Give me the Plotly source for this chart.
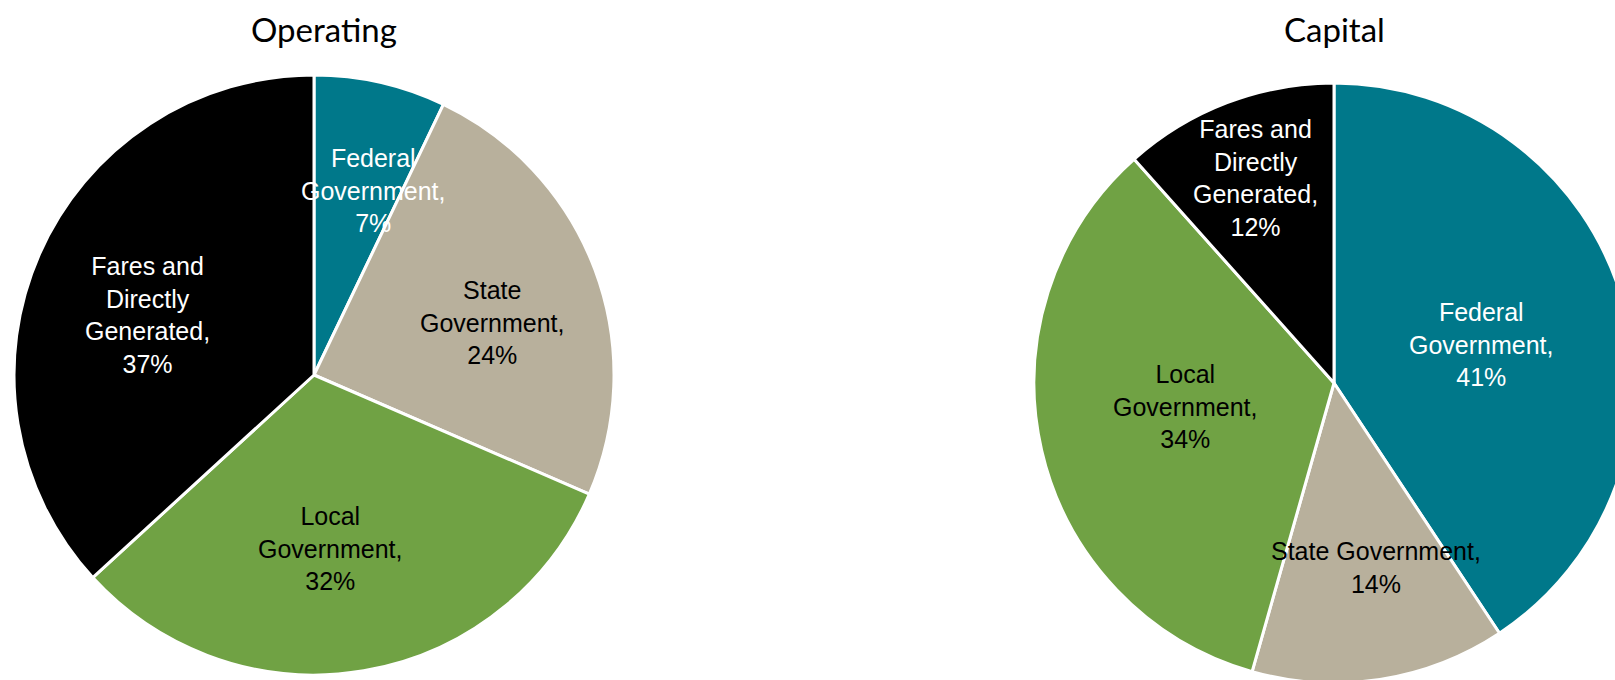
import math
import plotly.graph_objects as go

# Data
categories = ["Federal Government", "State Government", "Local Government", "Fares and Directly Generated"]
colors = ["#00788A", "#B8B09C", "#70A244", "#000000"]
text_colors = ["white", "black", "black", "white"]

operating_values = [7.1, 24.4, 31.7, 36.8]
operating_text = ["Federal<br>Government,", "State<br>Government,", "Local<br>Government,", "Fares and<br>Directly<br>Generated,"]

capital_values = [40.7, 13.7, 34.0, 11.6]
capital_text = ["Federal<br>Government,", "State Government,", "Local<br>Government,", "Fares and<br>Directly<br>Generated,"]

# label placement style (radial fraction and angle nudge in degrees)
operating_label_r = [0.645, 0.62, 0.58, 0.59]
operating_label_da = [5, 4, 4, -4]
capital_label_r = [0.51, 0.63, 0.50, 0.73]
capital_label_da = [2, -4, 4, 0]

W, H = 1640, 690
R = 300


def px_domain(cx, cy, r):
    return dict(x=[(cx - r) / W, (cx + r) / W], y=[1 - (cy + r) / H, 1 - (cy - r) / H])


fig = go.Figure()
pies = [
    (operating_values, operating_text, 314, 375, "Operating", 324, operating_label_r, operating_label_da),
    (capital_values, capital_text, 1334, 383, "Capital", 1334, capital_label_r, capital_label_da),
]
for vals, txt, cx, cy, name, title_x, lr, lda in pies:
    fig.add_trace(go.Pie(
        labels=categories, values=vals, name=name,
        sort=False, direction="clockwise", rotation=0,
        marker=dict(colors=colors, line=dict(color="white", width=3)),
        textinfo="none",
        domain=px_domain(cx, cy, R), showlegend=False, hoverinfo="label+percent",
    ))
    total = sum(vals)
    cum = 0.0
    for v, t, tc, rf, da in zip(vals, txt, text_colors, lr, lda):
        frac = v / total
        mid = (cum + frac / 2) * 360 + da
        cum += frac
        a = math.radians(mid)
        px = cx + rf * R * math.sin(a)
        py = cy - rf * R * math.cos(a)
        fig.add_annotation(
            text=f"{t}<br>{round(frac * 100)}%", x=px / W, y=1 - py / H,
            xref="paper", yref="paper", showarrow=False, align="center",
            xanchor="center", yanchor="middle",
            font=dict(family="Liberation Sans, Arial, sans-serif", size=25, color=tc),
        )
    fig.add_annotation(text=name, x=title_x / W, y=1 - 29 / H, xref="paper", yref="paper",
                       showarrow=False, xanchor="center", yanchor="middle",
                       font=dict(family="Lato, Open Sans, sans-serif", size=33, color="black"))

fig.update_layout(
    width=W, height=H, margin=dict(l=0, r=0, t=0, b=0),
    paper_bgcolor="white", plot_bgcolor="white",
)

fig.write_html("out.html", post_script="document.documentElement.style.overflow='hidden';document.body.style.overflow='hidden';document.body.style.margin='0';")
